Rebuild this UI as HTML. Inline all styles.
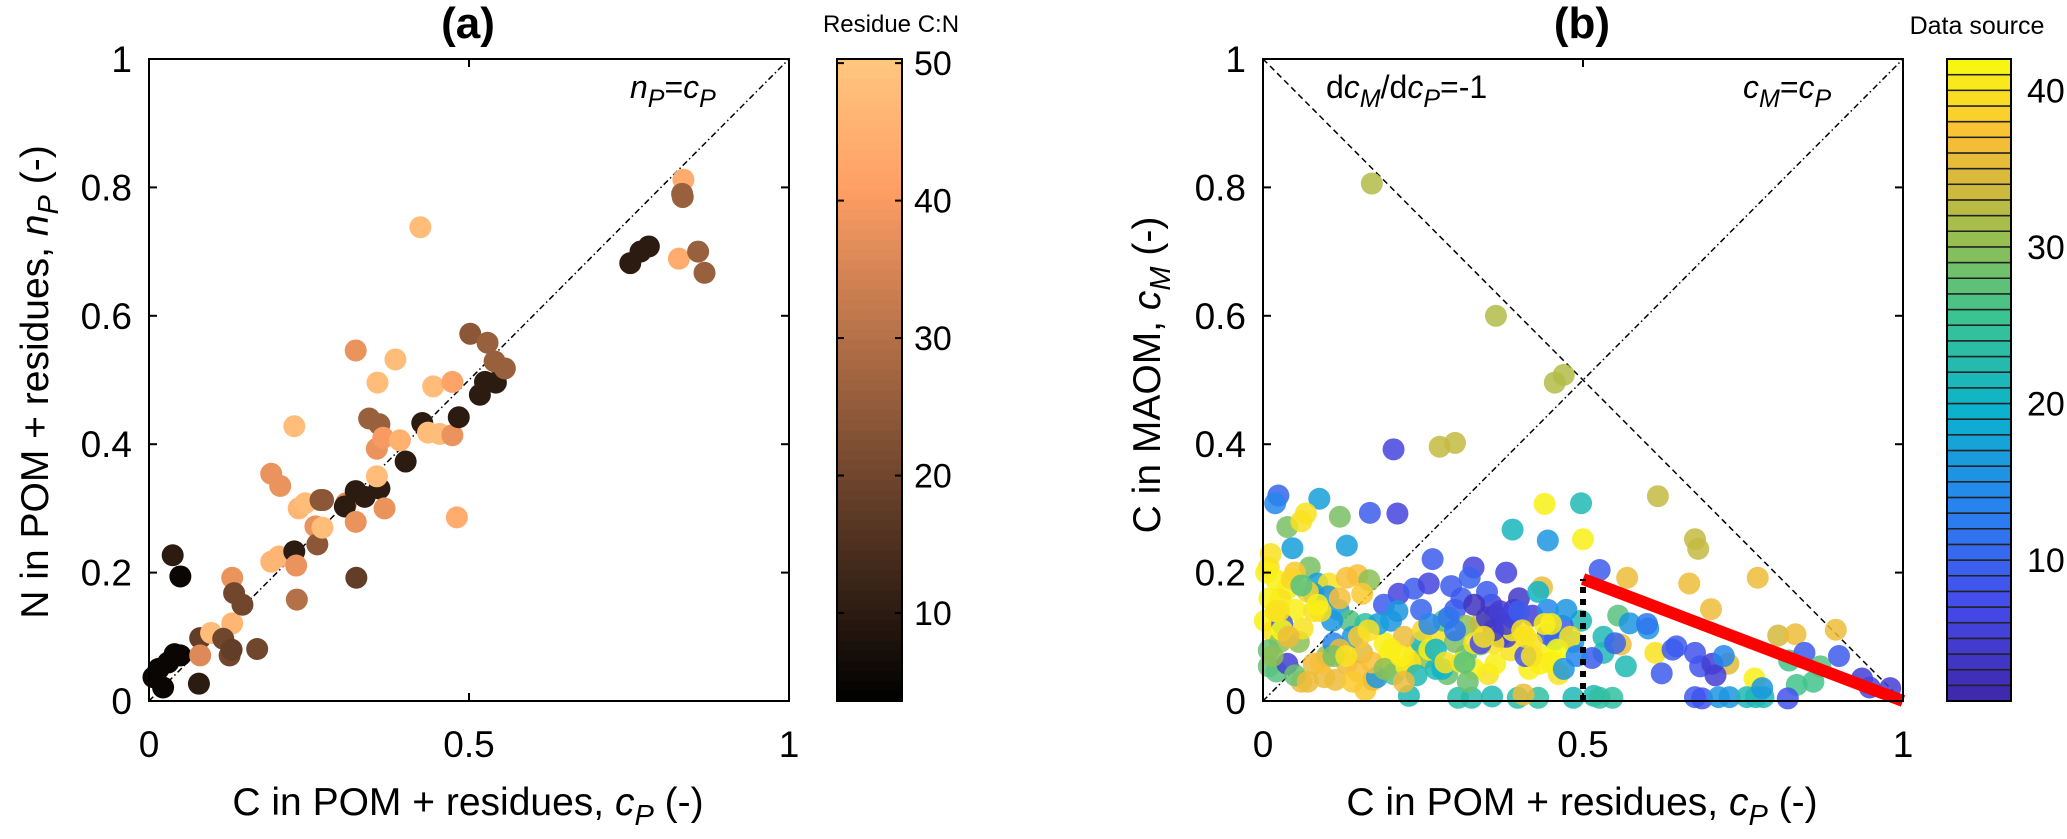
<!DOCTYPE html>
<html><head><meta charset="utf-8"><style>
html,body{margin:0;padding:0;background:#fff;}
svg{display:block;font-family:"Liberation Sans",Arial,sans-serif;}
</style></head><body>
<svg id="chart" width="2067" height="839" viewBox="0 0 2067 839" xmlns="http://www.w3.org/2000/svg">
<rect width="2067" height="839" fill="#fff"/>
<g id="pa"></g>
<g id="pb"></g>
<text x="468" y="38" font-size="44" font-weight="bold" text-anchor="middle">(a)</text>
<text x="1582" y="38" font-size="44" font-weight="bold" text-anchor="middle">(b)</text>
<text x="468" y="815" font-size="39" text-anchor="middle">C in POM + residues, <tspan font-style="italic">c</tspan><tspan font-style="italic" font-size="29" dy="10">P</tspan><tspan dy="-10"> (-)</tspan></text>
<text x="1582" y="815" font-size="39" text-anchor="middle">C in POM + residues, <tspan font-style="italic">c</tspan><tspan font-style="italic" font-size="29" dy="10">P</tspan><tspan dy="-10"> (-)</tspan></text>
<text transform="translate(48,382) rotate(-90)" font-size="39" text-anchor="middle">N in POM + residues, <tspan font-style="italic">n</tspan><tspan font-style="italic" font-size="29" dy="10">P</tspan><tspan dy="-10"> (-)</tspan></text>
<text transform="translate(1160,375) rotate(-90)" font-size="39" text-anchor="middle">C in MAOM, <tspan font-style="italic">c</tspan><tspan font-style="italic" font-size="29" dy="10">M</tspan><tspan dy="-10"> (-)</tspan></text>
<text x="891" y="32" font-size="24" text-anchor="middle">Residue C:N</text>
<text x="1977" y="34" font-size="25" text-anchor="middle">Data source</text>
<text x="630" y="98" font-size="32"><tspan font-style="italic">n</tspan><tspan font-style="italic" font-size="25" dy="9">P</tspan><tspan dy="-9">=</tspan><tspan font-style="italic">c</tspan><tspan font-style="italic" font-size="25" dy="9">P</tspan></text>
<text x="1326" y="98" font-size="32">d<tspan font-style="italic">c</tspan><tspan font-style="italic" font-size="25" dy="9">M</tspan><tspan dy="-9">/d</tspan><tspan font-style="italic">c</tspan><tspan font-style="italic" font-size="25" dy="9">P</tspan><tspan dy="-9">=-1</tspan></text>
<text x="1743" y="98" font-size="32"><tspan font-style="italic">c</tspan><tspan font-style="italic" font-size="25" dy="9">M</tspan><tspan dy="-9">=</tspan><tspan font-style="italic">c</tspan><tspan font-style="italic" font-size="25" dy="9">P</tspan></text>
</svg>
<script>
// Panel (a) data: x = cP, y = nP, c = residue C:N
const aX = [0.037,0.049,0.007,0.022,0.04,0.049,0.08,0.078,0.08,0.097,0.13,0.13,0.133,0.146,0.116,0.126,0.169,0.129,0.191,0.205,0.191,0.203,0.227,0.227,0.23,0.231,0.234,0.244,0.26,0.263,0.268,0.271,0.272,0.308,0.306,0.323,0.323,0.324,0.323,0.337,0.344,0.36,0.356,0.36,0.356,0.357,0.366,0.368,0.385,0.392,0.401,0.424,0.427,0.436,0.444,0.454,0.474,0.474,0.481,0.484,0.502,0.517,0.525,0.542,0.529,0.54,0.556,0.752,0.768,0.781,0.828,0.835,0.833,0.834,0.858,0.868,0.015,0.03];
const aY = [0.227,0.194,0.037,0.021,0.073,0.071,0.098,0.027,0.071,0.106,0.121,0.192,0.168,0.15,0.097,0.071,0.081,0.08,0.354,0.335,0.217,0.225,0.428,0.233,0.211,0.158,0.3,0.308,0.272,0.244,0.313,0.27,0.313,0.308,0.303,0.279,0.546,0.192,0.327,0.318,0.44,0.431,0.393,0.331,0.35,0.496,0.41,0.3,0.532,0.406,0.373,0.738,0.433,0.418,0.49,0.416,0.497,0.414,0.286,0.442,0.572,0.477,0.497,0.496,0.558,0.529,0.518,0.682,0.7,0.708,0.689,0.812,0.79,0.785,0.7,0.667,0.05,0.06];
const aC = [10,5,5,5,5,5,18,10,36,48,46,38,20,20,20,20,20,18,38,38,46,46,48,10,38,30,46,48,38,24,24,48,24,36,10,38,38,18,10,10,26,26,38,10,48,48,40,38,48,45,10,48,10,48,48,48,42,38,44,10,24,10,10,10,26,26,26,10,10,10,44,44,26,26,26,26,5,5];
// Panel (b) data: x = cP, y = cM, s = data source
const bX = [0.17,0.364,0.456,0.47,0.204,0.276,0.3,0.024,0.019,0.088,0.067,0.12,0.167,0.21,0.038,0.06,0.046,0.131,0.39,0.445,0.44,0.497,0.5,0.617,0.675,0.68,0.526,0.569,0.666,0.773,0.436,0.7,0.895,0.805,0.832,0.727,0.768,0.613,0.623,0.646,0.675,0.683,0.702,0.707,0.822,0.846,0.871,0.834,0.936,0.948,
0.675,0.686,0.712,0.729,0.756,0.77,0.782,0.82,0.517,0.526,0.546,0.228,0.305,0.326,0.358,0.398,0.43,0.485,0.407,
0.555,0.573,0.602,0.559,0.532,0.532,0.567,0.514,0.497,
0.012,0.009,0.021,0.038,0.027,0.003,0.015,0.027,0.009,0.009,0.021,0.038,0.056,0.062,0.05,0.073,0.085,0.103,0.131,0.148,0.166,0.155,0.118,0.135,0.108,0.079,0.102,
0.079,0.096,0.113,0.131,0.148,0.16,0.172,0.155,0.178,0.195,0.204,0.224,0.236,0.247,0.27,0.253,
0.212,0.236,0.259,0.265,0.294,0.329,0.323,0.38,0.357,0.363,0.375,0.392,0.421,0.445,
0.352,0.363,0.387,0.416,0.433,0.45,0.462,0.317,0.329,0.288,0.3,0.34,0.189,0.2,0.247,0.282,0.3,0.317,
0.468,0.485,0.456,0.474,0.445,0.34,0.31,0.38,0.4,0.42,0.27,0.22,0.06,0.03,0.1,0.14,0.19,0.43,0.35,0.02,0.05,0.11,0.25,0.29,0.37,0.41,0.16,0.08,
0.01,0.02,0.03,0.045,0.005,0.015,0.05,0.07,0.09,0.12,0.14,0.17,0.2,0.23,0.26,0.28,0.31,0.33,0.36,0.39,0.41,0.44,0.46,0.48,0.35,0.37,0.33,0.39,0.36,0.38,0.34,0.4,0.3,0.26,0.21,0.18,0.15,0.12,0.09,0.07,0.24,0.27,0.42,0.45,0.47,0.49,0.32,0.19,0.11,0.04,0.025,0.06,0.085,0.13,0.165,0.215,0.285,0.315,0.345,0.405,0.45,0.22,0.55,0.6,0.64,0.72,0.78,0.86,0.9,0.98];
const bY = [0.806,0.6,0.496,0.508,0.392,0.396,0.402,0.32,0.308,0.315,0.292,0.287,0.293,0.292,0.271,0.28,0.238,0.242,0.267,0.25,0.307,0.308,0.252,0.319,0.252,0.237,0.204,0.192,0.183,0.192,0.177,0.143,0.111,0.102,0.104,0.058,0.035,0.075,0.043,0.085,0.075,0.054,0.058,0.04,0.063,0.075,0.054,0.025,0.035,0.021,
0.006,0.004,0.006,0.006,0.006,0.006,0.006,0.004,0.008,0.005,0.005,0.008,0.005,0.005,0.007,0.005,0.005,0.005,0.01,
0.133,0.121,0.113,0.088,0.1,0.075,0.054,0.067,0.125,
0.229,0.208,0.188,0.175,0.158,0.125,0.108,0.092,0.079,0.054,0.046,0.058,0.092,0.113,0.142,0.208,0.183,0.183,0.192,0.196,0.188,0.167,0.142,0.125,0.125,0.167,0.163,
0.058,0.037,0.033,0.058,0.046,0.017,0.033,0.075,0.037,0.067,0.042,0.054,0.075,0.092,0.1,0.067,
0.167,0.175,0.183,0.221,0.179,0.208,0.192,0.2,0.15,0.133,0.121,0.142,0.133,0.142,
0.042,0.058,0.079,0.05,0.058,0.075,0.042,0.071,0.05,0.042,0.092,0.088,0.15,0.125,0.142,0.125,0.142,0.117,
0.117,0.092,0.096,0.142,0.104,0.12,0.16,0.1,0.16,0.09,0.05,0.1,0.03,0.12,0.07,0.1,0.09,0.17,0.17,0.14,0.2,0.09,0.11,0.13,0.1,0.07,0.12,0.14,
0.16,0.14,0.11,0.19,0.2,0.07,0.04,0.03,0.06,0.08,0.03,0.06,0.08,0.06,0.08,0.05,0.06,0.09,0.09,0.11,0.1,0.12,0.08,0.1,0.13,0.14,0.15,0.13,0.11,0.12,0.09,0.14,0.11,0.12,0.14,0.12,0.1,0.16,0.14,0.17,0.04,0.08,0.07,0.06,0.05,0.07,0.03,0.05,0.07,0.1,0.14,0.18,0.15,0.07,0.11,0.07,0.06,0.06,0.1,0.11,0.12,0.03,0.09,0.12,0.08,0.07,0.02,0.03,0.07,0.02];
const bS = [32,32,32,32,6,33,33,10,14,17,40,29,9,6,29,40,17,17,21,16,41,22,41,33,33,33,9,36,36,36,36,36,36,34,36,35,41,40,9,9,8,8,5,5,26,9,27,26,5,6,
9,8,16,16,22,22,22,8,22,24,24,22,23,23,22,23,24,22,36,
27,16,16,36,22,22,22,9,22,
40,40,41,41,40,41,40,30,28,28,27,5,30,40,41,29,17,40,37,37,30,38,17,27,16,17,16,
36,36,36,36,37,38,36,35,16,41,27,41,40,20,40,30,
6,9,6,9,9,6,10,6,5,4,4,4,5,14,
40,41,40,41,41,41,40,27,41,28,29,30,9,16,10,27,9,30,
9,16,14,16,9,33,9,5,4,40,22,36,36,9,30,16,41,20,9,41,38,14,39,12,6,8,24,40,
41,40,42,39,41,30,28,36,37,36,38,37,41,40,41,20,41,40,40,41,40,41,42,40,4,5,3,6,4,5,7,9,12,14,16,17,38,37,40,39,22,20,40,41,16,14,28,30,29,36,40,27,41,40,40,41,40,27,40,40,41,36,10,12,9,14,16,26,9,5];
const axTicks = [0,0.5,1];
const axTickLabels = ['0','0.5','1'];
const ayTicks = [0,0.2,0.4,0.6,0.8,1];
const ayTickLabels = ['0','0.2','0.4','0.6','0.8','1'];
const cbATicks = [10,20,30,40,50];
const cbBTicks = [10,20,30,40];

const NS='http://www.w3.org/2000/svg';
const TOP=59, BOT=701;
const A={l:149,r:789}, B={l:1263,r:1903};
const CBA={l:837,r:902,min:3.6,max:50.3}, CBB={l:1947,r:2011,min:1,max:42};
function sx(p,v){return p.l+(p.r-p.l)*v;}
function sy(v){return BOT-(BOT-TOP)*v;}
function el(tag,attrs,parent){const e=document.createElementNS(NS,tag);for(const k in attrs)e.setAttribute(k,attrs[k]);parent.appendChild(e);return e;}
function copper(t){t=Math.max(0,Math.min(1,t));return 'rgb('+Math.round(255*Math.min(1,1.25*t))+','+Math.round(255*0.7812*t)+','+Math.round(255*0.4975*t)+')';}
const par=[[0,62,38,168],[0.15,70,75,235],[0.3,40,130,240],[0.45,12,178,205],[0.6,60,195,145],[0.72,150,190,80],[0.8,210,185,60],[0.88,250,190,55],[1,249,251,14]];
function parula(t){t=Math.max(0,Math.min(1,t));for(let i=1;i<par.length;i++){if(t<=par[i][0]){const a=par[i-1],b=par[i],f=(t-a[0])/(b[0]-a[0]);return 'rgb('+[1,2,3].map(j=>Math.round(a[j]+(b[j]-a[j])*f)).join(',')+')';}}return 'rgb(249,251,14)';}

function axes(g,p,name){
  const fr=el('rect',{x:p.l,y:TOP,width:p.r-p.l,height:BOT-TOP,fill:'none',stroke:'#000','stroke-width':2},g);
  
  
  axTicks.forEach((v,i)=>{const x=sx(p,v);
    el('line',{x1:x,y1:BOT,x2:x,y2:BOT-8,stroke:'#000','stroke-width':2},g);
    el('line',{x1:x,y1:TOP,x2:x,y2:TOP+8,stroke:'#000','stroke-width':2},g);
    const t=el('text',{x:x,y:757,'font-size':37,'text-anchor':'middle'},g);t.textContent=axTickLabels[i];
    
    });
  ayTicks.forEach((v,i)=>{const y=sy(v);
    el('line',{x1:p.l,y1:y,x2:p.l+8,y2:y,stroke:'#000','stroke-width':2},g);
    el('line',{x1:p.r,y1:y,x2:p.r-8,y2:y,stroke:'#000','stroke-width':2},g);
    const t=el('text',{x:p.l-17,y:y+13,'font-size':37,'text-anchor':'end'},g);t.textContent=ayTickLabels[i];
    
    });
}
const ga=document.getElementById('pa'), gb=document.getElementById('pb');
// Panel a
const la=el('line',{x1:sx(A,0),y1:sy(0),x2:sx(A,1),y2:sy(1),stroke:'#000','stroke-width':1.5,'stroke-dasharray':'6 3 1.5 3'},ga);


aX.forEach((x,i)=>{const c=el('circle',{cx:sx(A,x),cy:sy(aY[i]),r:11,fill:copper((aC[i]-CBA.min)/(CBA.max-CBA.min))},ga);
  
  });
axes(ga,A,'axes-a');
// colorbar a
for(let i=0;i<64;i++){const y0=TOP+(BOT-TOP)*i/64;el('rect',{x:CBA.l,y:y0,width:CBA.r-CBA.l,height:(BOT-TOP)/64+0.6,fill:copper(1-(i+0.5)/64)},ga);}
const cba=el('rect',{x:CBA.l,y:TOP,width:CBA.r-CBA.l,height:BOT-TOP,fill:'none',stroke:'#000','stroke-width':2},ga);


cbATicks.forEach(v=>{const y=BOT-(BOT-TOP)*(v-CBA.min)/(CBA.max-CBA.min);
  el('line',{x1:CBA.r,y1:y,x2:CBA.r-7,y2:y,stroke:'#000','stroke-width':2},ga);
  el('line',{x1:CBA.l,y1:y,x2:CBA.l+7,y2:y,stroke:'#000','stroke-width':2},ga);
  const t=el('text',{x:914,y:y+12,'font-size':34},ga);t.textContent=v;
  
  });
// Panel b
const l1=el('line',{x1:sx(B,0),y1:sy(0),x2:sx(B,1),y2:sy(1),stroke:'#000','stroke-width':1.5,'stroke-dasharray':'6 3 1.5 3'},gb);


const l2=el('line',{x1:sx(B,0),y1:sy(1),x2:sx(B,1),y2:sy(0),stroke:'#000','stroke-width':1.5,'stroke-dasharray':'6 4'},gb);


bX.forEach((x,i)=>{const c=el('circle',{cx:sx(B,x),cy:sy(bY[i]),r:11,fill:parula((bS[i]-CBB.min)/(CBB.max-CBB.min)),'fill-opacity':0.85},gb);
  
  });
const fitX=[0.5,1], fitY=[0.19,0];
const rl=el('line',{x1:sx(B,fitX[0]),y1:sy(fitY[0]),x2:sx(B,fitX[1]),y2:sy(fitY[1]),stroke:'#ff0000','stroke-width':12},gb);


const vl=el('line',{x1:sx(B,0.5),y1:sy(0),x2:sx(B,0.5),y2:sy(fitY[0]),stroke:'#000','stroke-width':6,'stroke-dasharray':'6 6'},gb);


axes(gb,B,'axes-b');
// colorbar b (discrete bands)
const nb=41;
for(let i=0;i<nb;i++){const h=(BOT-TOP)/nb, y0=BOT-h*(i+1);
  el('rect',{x:CBB.l,y:y0,width:CBB.r-CBB.l,height:h,fill:parula((i+0.5)/nb),stroke:'#222','stroke-width':1.5},gb);}
const cbb=el('rect',{x:CBB.l,y:TOP,width:CBB.r-CBB.l,height:BOT-TOP,fill:'none',stroke:'#000','stroke-width':2},gb);


cbBTicks.forEach(v=>{const y=BOT-(BOT-TOP)*(v-CBB.min)/(CBB.max-CBB.min);
  const t=el('text',{x:2027,y:y+12,'font-size':34},gb);t.textContent=v;
  
  });
</script>
</body></html>
